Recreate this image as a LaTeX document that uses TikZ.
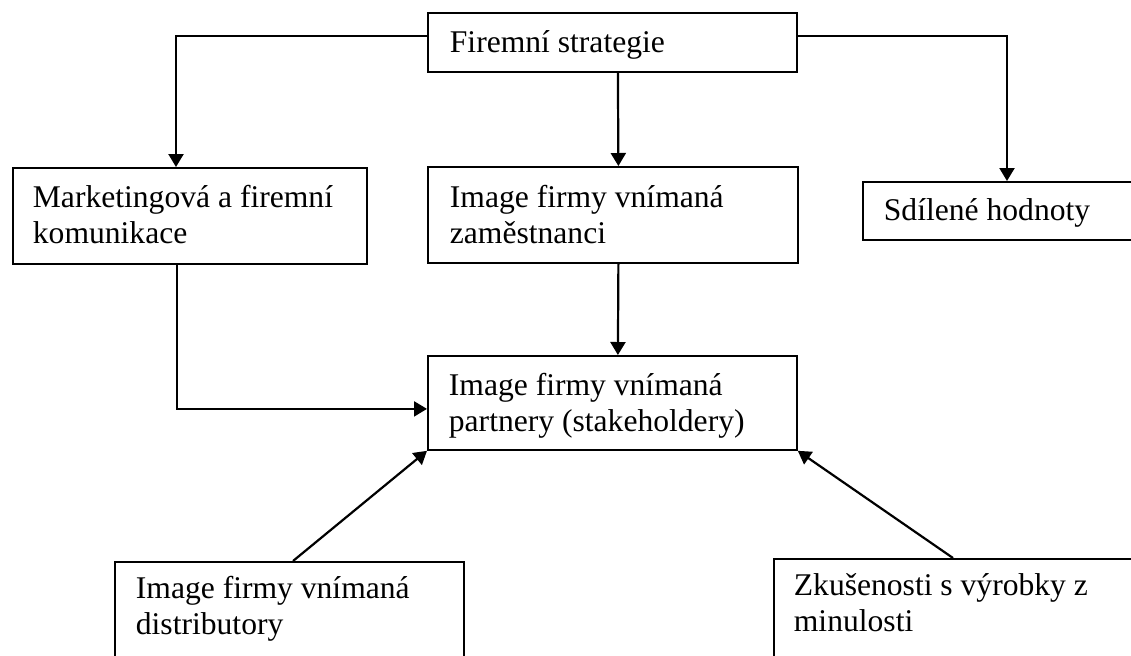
\documentclass[tikz,border=0pt]{standalone}
\usepackage{fontspec}
\setmainfont{Liberation Serif}
\usetikzlibrary{arrows.meta}

% text inside a box: width, height, first baseline, text
\newcommand{\boxtxt}[4]{\parbox[t][#2][t]{#1}{\raggedright\rule{0pt}{#3}#4}}

\tikzset{
  stbox/.style={draw, line width=0.9pt, fill=white, anchor=north west, inner ysep=0pt,
    font=\fontsize{15.8pt}{18pt}\selectfont},
  flow/.style={-{Triangle[width=7.5pt,length=6.5pt]}, line width=1.1pt}
}

\begin{document}
\begin{tikzpicture}[x=0.5pt, y=-0.5pt]
\useasboundingbox (0,0) rectangle (1131,655);
\clip (0,0) rectangle (1131,655);

% boxes
\node[stbox, inner xsep=11pt] (fs) at (427,12) {\boxtxt{162.5pt}{29.5pt}{20pt}{Firemní strategie}};
\node[stbox, inner xsep=10pt] (mk) at (12,167) {\boxtxt{157pt}{48pt}{20pt}{Marketingová a firemní\\komunikace}};
\node[stbox, inner xsep=11pt] (zam) at (427,166) {\boxtxt{163pt}{48pt}{20.5pt}{Image firmy vnímaná\\zaměstnanci}};
\node[stbox, inner xsep=10.5pt] (sh) at (862,181) {\boxtxt{124pt}{29pt}{19.5pt}{Sdílené hodnoty}};
\node[stbox, inner xsep=10.5pt] (pt) at (427,355) {\boxtxt{163.5pt}{47pt}{20pt}{Image firmy vnímaná\\partnery (stakeholdery)}};
\node[stbox, inner xsep=10.5pt] (dist) at (114,561) {\boxtxt{153.5pt}{60pt}{18.5pt}{Image firmy vnímaná\\distributory}};
\node[stbox, inner xsep=10pt] (zk) at (773,558) {\boxtxt{168.5pt}{60pt}{18.5pt}{Zkušenosti s výrobky z\\minulosti}};

% connectors
\draw[flow] ([yshift=-12pt]fs.north west) -| ([xshift=82pt]mk.north west);
\draw[flow] ([yshift=-12pt]fs.north east) -| ([xshift=72.5pt]sh.north west);
\draw[flow] ([xshift=2.75pt]fs.south) -- ([xshift=2.75pt]zam.north);
\draw[flow] ([xshift=2.75pt]zam.south) -- ([xshift=2.75pt]pt.north);
\draw[flow] ([xshift=82.5pt]mk.south west) |- ([yshift=-3pt]pt.west);
\draw[flow] ([xshift=89.5pt]dist.north west) -- (pt.south west);
\draw[flow] ([xshift=90pt]zk.north west) -- (pt.south east);
\end{tikzpicture}
\end{document}
